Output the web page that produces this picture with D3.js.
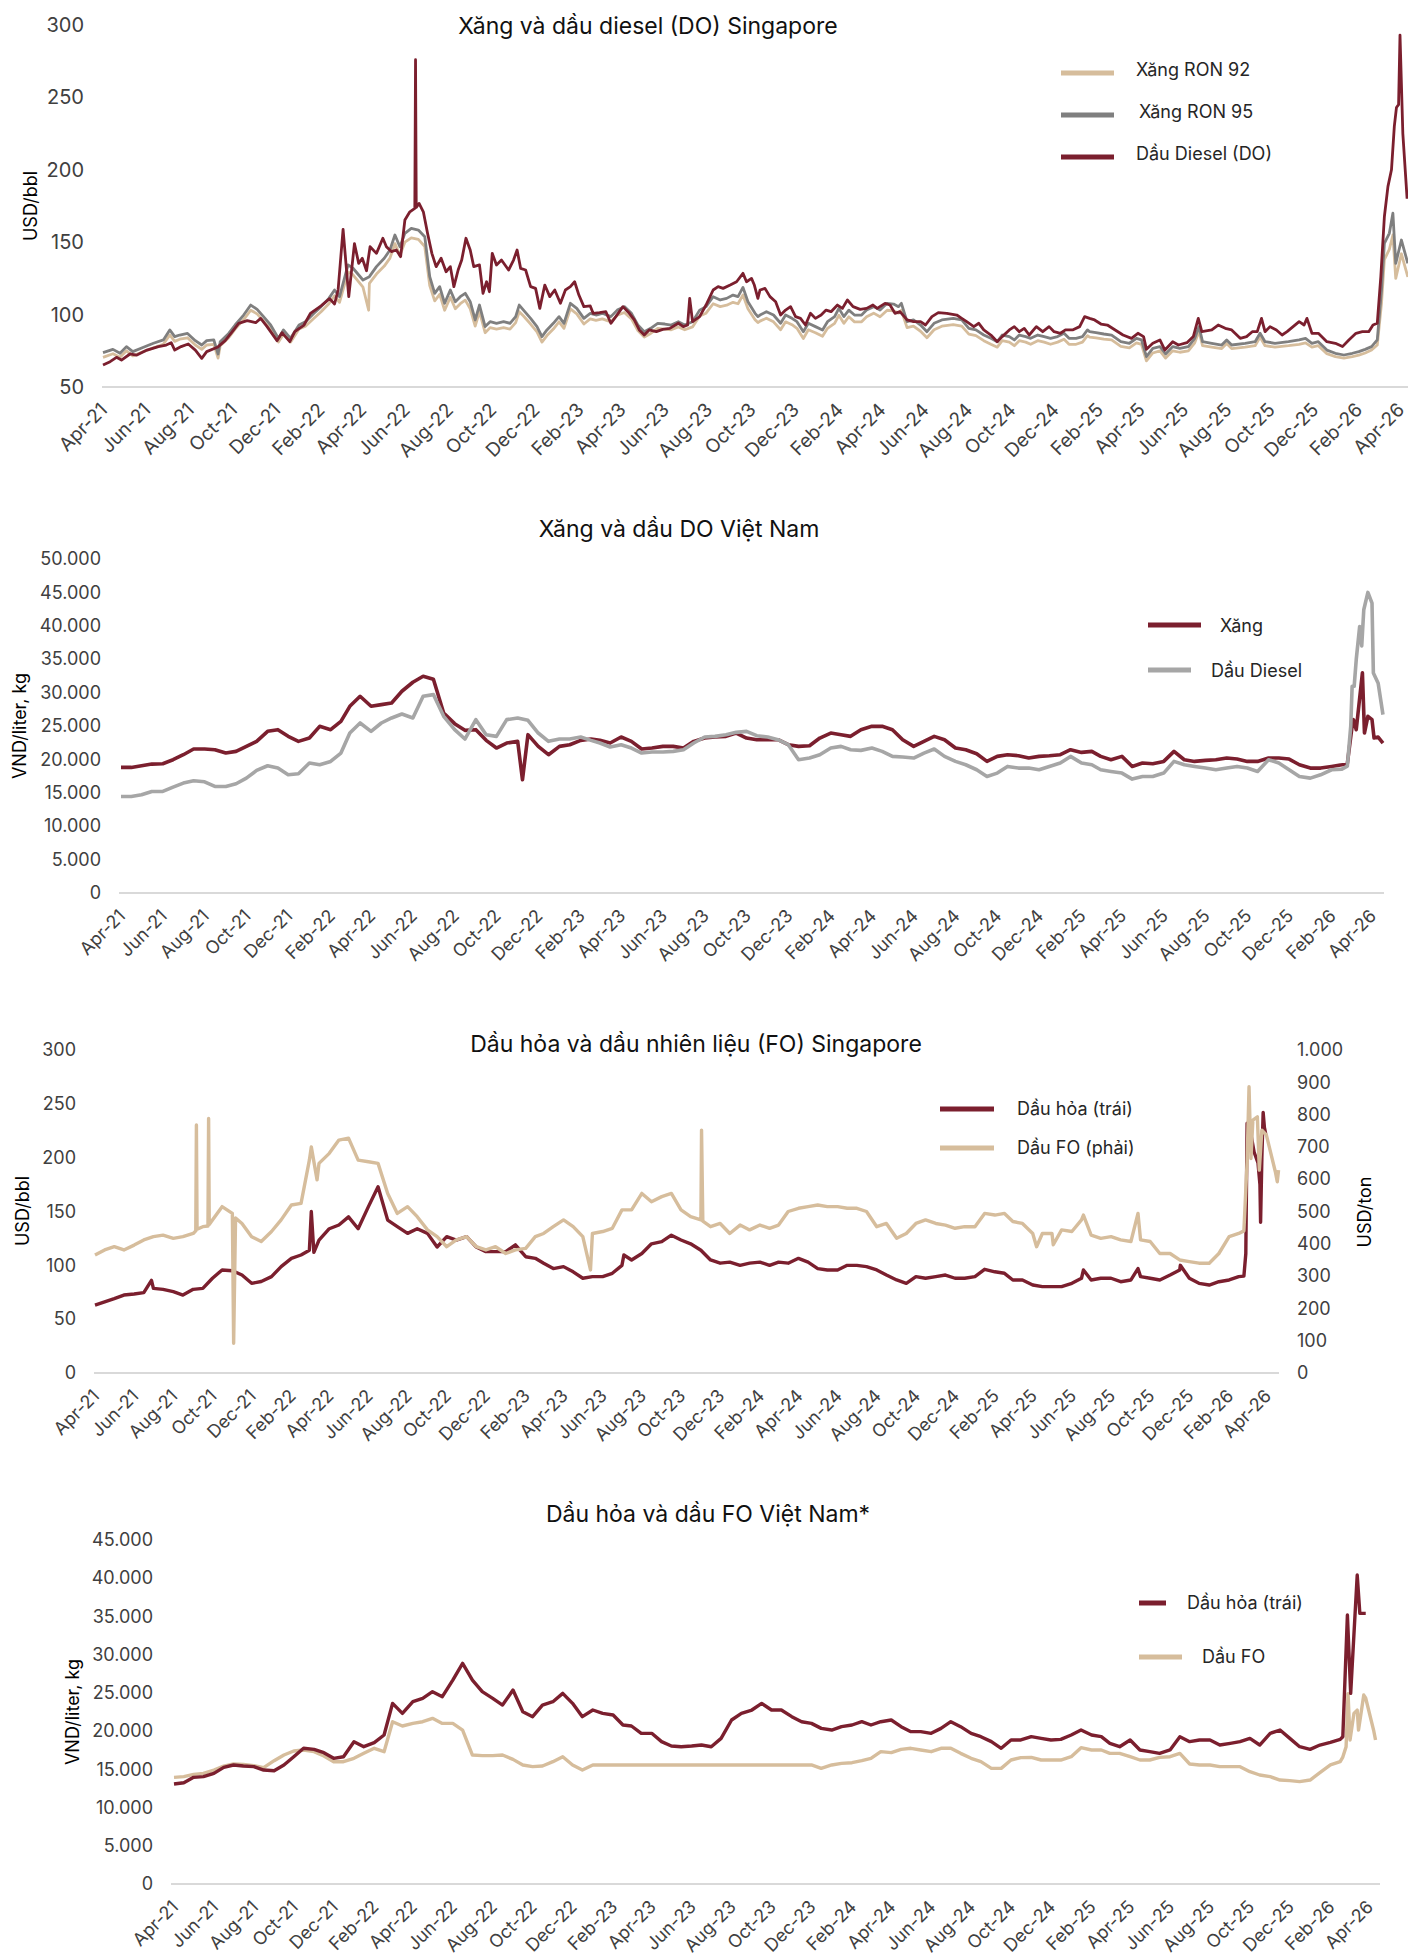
<!DOCTYPE html>
<html>
<head>
<meta charset="utf-8">
<script src="https://cdn.jsdelivr.net/npm/d3@7"></script>
<style>
  body { margin: 0; background: #fff; }
  svg { display: block; font-family: Inter, "Noto Sans", sans-serif; }
  .tick text { fill: #404040; }
</style>
</head>
<body>
<svg id="chart" width="1408" height="1953"></svg>
<script>
// ---- Panel 1: Singapore gasoline & diesel, USD/bbl (dated readings of turning points) ----
const sgDiesel = [["2021-04-01",65.2],["2021-04-11",67.5],["2021-04-20",70.5],["2021-04-27",68.6],["2021-05-09",72.8],
  ["2021-05-18",72],["2021-06-02",75.5],["2021-06-18",77.9],["2021-06-29",79],["2021-07-06",80.6],["2021-07-11",75.5],
  ["2021-07-20",77.9],["2021-07-30",79.7],["2021-08-09",75.5],["2021-08-18",69.8],["2021-08-25",74.4],["2021-09-09",77.4],
  ["2021-09-20",82],["2021-09-29",87.5],["2021-10-09",94],["2021-10-21",95.8],["2021-11-02",94.4],["2021-11-09",97.4],
  ["2021-11-18",91.7],["2021-12-02",82],["2021-12-09",87.5],["2021-12-20",81.3],["2021-12-27",88.2],["2022-01-09",92.8],
  ["2022-01-18",100.9],["2022-02-02",106],["2022-02-14",111],["2022-02-21",107.3],["2022-02-26",117],["2022-03-05",158.9],
  ["2022-03-13",112.4],["2022-03-21",149],["2022-03-27",135.4],["2022-04-01",138.9],["2022-04-07",130.3],["2022-04-12",146.9],
  ["2022-04-21",142.3],["2022-04-30",152.7],["2022-05-05",146.9],["2022-05-12",143.5],["2022-05-19",144.6],["2022-05-25",140],
  ["2022-05-31",165.3],["2022-06-07",171],["2022-06-14",173.4],["2022-06-15",276],["2022-06-16",174],["2022-06-20",176.8],
  ["2022-06-26",171],["2022-07-02",156],["2022-07-08",142.3],["2022-07-14",133.1],["2022-07-21",138.9],["2022-07-28",129.6],
  ["2022-08-03",133.1],["2022-08-08",119.3],["2022-08-14",130.8],["2022-08-19",137.7],["2022-08-25",152.7],["2022-08-31",144.6],
  ["2022-09-05",133.1],["2022-09-13",134.3],["2022-09-18",114.7],["2022-09-23",122.7],["2022-09-27",115.8],["2022-10-01",142.3],
  ["2022-10-07",134.3],["2022-10-14",137.7],["2022-10-24",130.8],["2022-10-31",137.7],["2022-11-05",144.6],["2022-11-10",131.9],
  ["2022-11-17",130.8],["2022-11-24",119.3],["2022-12-01",118.1],["2022-12-07",104.3],["2022-12-14",120.4],["2022-12-21",112.4],
  ["2022-12-28",117],["2023-01-05",107.8],["2023-01-12",117],["2023-01-19",119.3],["2023-01-25",122.7],["2023-01-31",113.5],
  ["2023-02-07",105.5],["2023-02-16",106],["2023-02-20",100.9],["2023-03-01",101.4],["2023-03-10",102],["2023-03-17",94],
  ["2023-03-24",98.6],["2023-04-03",105.5],["2023-04-12",100.9],["2023-04-19",96.3],["2023-04-26",89.4],["2023-05-03",85.9],
  ["2023-05-10",89.4],["2023-05-20",88.2],["2023-05-29",89.8],["2023-06-08",90.5],["2023-06-20",94],["2023-06-27",91.7],
  ["2023-07-03",92.8],["2023-07-06",111.2],["2023-07-10",95.1],["2023-07-20",98.6],["2023-07-29",106.6],["2023-08-08",117],
  ["2023-08-15",119.3],["2023-08-22",118.1],["2023-09-01",120.4],["2023-09-10",122.7],["2023-09-19",128.5],["2023-09-24",122.7],
  ["2023-10-01",125],["2023-10-05",120.4],["2023-10-10",111.2],["2023-10-13",117],["2023-10-20",118.1],["2023-10-27",112.4],
  ["2023-11-04",108.9],["2023-11-11",99.7],["2023-11-18",103.1],["2023-11-25",105.5],["2023-12-02",98.6],["2023-12-09",97.4],
  ["2023-12-16",92.8],["2023-12-23",100.9],["2023-12-30",97.4],["2024-01-07",99.7],["2024-01-14",103.1],["2024-01-21",102],
  ["2024-01-30",106.6],["2024-02-06",104.3],["2024-02-13",110.1],["2024-02-21",105.5],["2024-03-02",103.6],["2024-03-11",104.3],
  ["2024-03-20",106.6],["2024-03-26",104.3],["2024-04-06",107.8],["2024-04-13",106.6],["2024-04-20",100.9],["2024-04-27",102],
  ["2024-05-07",96.3],["2024-05-16",95.1],["2024-05-26",95.1],["2024-06-02",92.8],["2024-06-11",98.6],["2024-06-20",101.4],
  ["2024-07-02",100.9],["2024-07-16",99.7],["2024-07-23",97.4],["2024-07-30",95.1],["2024-08-09",91.7],["2024-08-16",94],
  ["2024-08-23",89.4],["2024-09-02",85.9],["2024-09-11",81.3],["2024-09-18",84.8],["2024-09-28",89.4],["2024-10-05",91.7],
  ["2024-10-12",88.2],["2024-10-19",90.5],["2024-10-26",85.9],["2024-11-05",91.7],["2024-11-14",88.2],["2024-11-23",91.7],
  ["2024-11-30",88.2],["2024-12-09",87.1],["2024-12-16",89.4],["2024-12-26",89.4],["2025-01-05",91.7],["2025-01-12",98.6],
  ["2025-01-19",97.4],["2025-01-26",96.3],["2025-02-04",93.5],["2025-02-13",92.8],["2025-02-24",89.4],["2025-03-07",85.9],
  ["2025-03-19",83.6],["2025-03-28",87.1],["2025-04-05",84.8],["2025-04-09",76],["2025-04-18",80.2],["2025-04-28",82.5],
  ["2025-05-05",75.5],["2025-05-16",81.3],["2025-05-24",79],["2025-06-05",80.6],["2025-06-14",84.8],["2025-06-21",97.4],
  ["2025-06-26",88.2],["2025-07-10",89.4],["2025-07-19",92.8],["2025-07-29",90.5],["2025-08-07",89.4],["2025-08-19",83.6],
  ["2025-08-28",84.8],["2025-09-05",88.2],["2025-09-12",88.2],["2025-09-18",97.4],["2025-09-23",88.2],["2025-09-30",91.7],
  ["2025-10-09",89.4],["2025-10-17",85.9],["2025-10-24",88.2],["2025-11-10",95.1],["2025-11-17",92.8],["2025-11-21",97.4],
  ["2025-11-28",87.1],["2025-12-07",87.1],["2025-12-19",81.3],["2025-12-31",80.2],["2026-01-10",77.9],["2026-01-19",82.5],
  ["2026-01-29",87.1],["2026-02-07",88.2],["2026-02-16",88.2],["2026-02-22",92.8],["2026-02-28",94],["2026-03-05",126.2],
  ["2026-03-10",167.6],["2026-03-15",188.4],["2026-03-20",200],["2026-03-24",230],["2026-03-27",243],["2026-03-30",245],
  ["2026-04-01",293],["2026-04-05",225],["2026-04-11",180]];

const sgRon95 = [["2021-04-01",73.7],["2021-04-15",76],["2021-04-25",73.3],["2021-05-04",77.9],["2021-05-13",74.4],
  ["2021-05-28",77.4],["2021-06-11",80.2],["2021-06-25",82.5],["2021-07-04",89.4],["2021-07-11",84.8],["2021-07-18",85.9],
  ["2021-07-29",87],["2021-08-09",82],["2021-08-18",79],["2021-08-25",82],["2021-09-04",82.5],["2021-09-10",72.8],
  ["2021-09-13",81.3],["2021-09-25",87],["2021-10-04",92.8],["2021-10-16",99.7],["2021-10-26",106.6],["2021-11-04",103.6],
  ["2021-11-13",98.6],["2021-11-23",92.8],["2021-12-04",83.6],["2021-12-11",89.4],["2021-12-21",83.6],["2022-01-02",92.8],
  ["2022-01-11",95.1],["2022-01-23",100.9],["2022-02-02",105.5],["2022-02-13",111.2],["2022-02-21",117],["2022-02-28",112.4],
  ["2022-03-12",134.3],["2022-03-19",132],["2022-04-02",123.9],["2022-04-11",126.2],["2022-04-21",133.1],["2022-05-02",138.9],
  ["2022-05-10",144.6],["2022-05-17",155],["2022-05-24",146.9],["2022-05-31",156.1],["2022-06-09",159.6],["2022-06-19",158.4],
  ["2022-06-28",153.8],["2022-07-05",126.2],["2022-07-12",114.7],["2022-07-19",119.3],["2022-07-26",107.8],["2022-08-03",117],
  ["2022-08-10",108.9],["2022-08-17",112.4],["2022-08-24",114.7],["2022-08-31",108.9],["2022-09-07",96.3],["2022-09-13",106.6],
  ["2022-09-21",91.7],["2022-09-28",95.1],["2022-10-07",94],["2022-10-17",95.1],["2022-10-26",94],["2022-11-03",98.6],
  ["2022-11-08",106.6],["2022-11-14",103.1],["2022-11-24",97.4],["2022-12-03",91.7],["2022-12-10",84.8],["2022-12-17",89.4],
  ["2022-12-26",94],["2023-01-03",98.6],["2023-01-10",94],["2023-01-19",107.8],["2023-01-28",104.3],["2023-02-07",97.4],
  ["2023-02-16",100.9],["2023-02-24",99.7],["2023-03-05",100.9],["2023-03-17",98.6],["2023-03-26",103.1],["2023-04-05",105.5],
  ["2023-04-15",100.9],["2023-04-24",92.8],["2023-05-03",88.2],["2023-05-12",90.5],["2023-05-22",94],["2023-06-01",93.5],
  ["2023-06-10",92.8],["2023-06-20",95.1],["2023-06-29",92.8],["2023-07-10",95.1],["2023-07-20",103.1],["2023-07-29",105.5],
  ["2023-08-08",112.4],["2023-08-18",110.1],["2023-08-27",111.2],["2023-09-05",113.5],["2023-09-12",112.4],["2023-09-19",118.8],
  ["2023-09-26",108.9],["2023-10-06",100.9],["2023-10-10",98.6],["2023-10-13",99.7],["2023-10-22",102],["2023-11-01",99.7],
  ["2023-11-11",94],["2023-11-18",99.7],["2023-11-27",97.4],["2023-12-04",95.1],["2023-12-13",88.2],["2023-12-20",94],
  ["2023-12-30",91.7],["2024-01-09",89.4],["2024-01-16",95.1],["2024-01-26",98.6],["2024-02-01",104.3],["2024-02-08",98.6],
  ["2024-02-15",103.1],["2024-02-23",99.7],["2024-03-04",99.7],["2024-03-11",103.1],["2024-03-21",105.5],["2024-03-30",103.1],
  ["2024-04-09",107.8],["2024-04-18",107.3],["2024-04-25",105.5],["2024-04-29",107.8],["2024-05-07",95.1],["2024-05-16",96.3],
  ["2024-05-26",92.8],["2024-06-04",88.2],["2024-06-14",94],["2024-06-25",96.3],["2024-07-11",97.4],["2024-07-23",96.3],
  ["2024-08-02",90.5],["2024-08-12",89.4],["2024-08-23",85.9],["2024-09-02",83.6],["2024-09-11",81.3],["2024-09-18",85.9],
  ["2024-09-28",84.8],["2024-10-05",82.5],["2024-10-12",85.9],["2024-10-21",84.8],["2024-10-28",83.6],["2024-11-07",85.9],
  ["2024-11-16",84.8],["2024-11-25",83.6],["2024-12-05",84.8],["2024-12-14",87.1],["2024-12-21",83.6],["2024-12-31",83.6],
  ["2025-01-09",84.8],["2025-01-16",89.4],["2025-01-19",88.2],["2025-01-28",87.5],["2025-02-08",86.6],["2025-02-19",85.9],
  ["2025-03-04",81.3],["2025-03-16",80.2],["2025-03-26",83.6],["2025-04-02",82.5],["2025-04-09",71],["2025-04-18",76.7],
  ["2025-04-28",77.9],["2025-05-06",72.8],["2025-05-16",77.9],["2025-05-26",76.7],["2025-06-07",77.9],["2025-06-16",83.6],
  ["2025-06-22",91.7],["2025-06-27",81.3],["2025-07-10",80.2],["2025-07-24",79],["2025-07-31",82.5],["2025-08-07",79],
  ["2025-08-26",80.2],["2025-09-09",81.3],["2025-09-16",87.1],["2025-09-23",81.3],["2025-10-07",80.2],["2025-10-26",81.3],
  ["2025-11-10",82.5],["2025-11-19",83.6],["2025-11-28",80.2],["2025-12-07",81.3],["2025-12-19",75.5],["2025-12-31",73.3],
  ["2026-01-12",72.1],["2026-01-24",73.3],["2026-02-02",74.4],["2026-02-11",76],["2026-02-20",77.9],["2026-02-28",82.5],
  ["2026-03-06",117],["2026-03-10",149.2],["2026-03-17",156.1],["2026-03-22",170],["2026-03-26",135.4],["2026-04-03",151.5],
  ["2026-04-12",135.4]];

const sgRon92 = [["2021-04-01",70.5],["2021-04-15",73],["2021-04-25",70.5],["2021-05-04",75],["2021-05-13",71.5],
  ["2021-05-28",74.5],["2021-06-11",77],["2021-06-25",79.5],["2021-07-04",86],["2021-07-11",81.5],["2021-07-18",83],
  ["2021-07-29",84],["2021-08-09",79],["2021-08-18",76],["2021-08-25",79],["2021-09-04",79.5],["2021-09-10",70],
  ["2021-09-13",78.5],["2021-09-25",84],["2021-10-04",90],["2021-10-16",96.5],["2021-10-26",103],["2021-11-04",100.5],
  ["2021-11-13",95.5],["2021-11-23",90],["2021-12-04",81],["2021-12-11",86.5],["2021-12-21",81],["2022-01-02",90],
  ["2022-01-11",92],["2022-01-23",97.5],["2022-02-02",102],["2022-02-13",107.5],["2022-02-21",113],["2022-02-28",108.5],
  ["2022-03-12",129.5],["2022-03-19",127.5],["2022-04-02",119],["2022-04-10",103],["2022-04-11",121.5],["2022-04-21",128],
  ["2022-05-02",133.5],["2022-05-10",139],["2022-05-17",149],["2022-05-24",141],["2022-05-31",150],["2022-06-09",153],
  ["2022-06-19",152],["2022-06-28",147],["2022-07-05",120],["2022-07-12",109.5],["2022-07-19",114],["2022-07-26",103],
  ["2022-08-03",112],["2022-08-10",104],["2022-08-17",107.5],["2022-08-24",110],["2022-08-31",104],["2022-09-07",92],
  ["2022-09-13",102],["2022-09-21",87.5],["2022-09-28",91],["2022-10-07",90],["2022-10-17",91],["2022-10-26",90],
  ["2022-11-03",94.5],["2022-11-08",102],["2022-11-14",99],["2022-11-24",93.5],["2022-12-03",88],["2022-12-10",81],
  ["2022-12-17",85.5],["2022-12-26",90],["2023-01-03",95],["2023-01-10",90.5],["2023-01-19",104],["2023-01-28",100.5],
  ["2023-02-07",93.5],["2023-02-16",97],["2023-02-24",96],["2023-03-05",97],["2023-03-17",95],["2023-03-26",99.5],
  ["2023-04-05",101.5],["2023-04-15",97],["2023-04-24",89],["2023-05-03",84.5],["2023-05-12",87],["2023-05-22",90.5],
  ["2023-06-01",90],["2023-06-10",89.5],["2023-06-20",91.5],["2023-06-29",89.5],["2023-07-10",91.5],["2023-07-20",99],
  ["2023-07-29",101],["2023-08-08",107.5],["2023-08-18",105.5],["2023-08-27",106.5],["2023-09-05",108.5],["2023-09-12",107.5],
  ["2023-09-19",113.5],["2023-09-26",104],["2023-10-06",96.5],["2023-10-10",94.5],["2023-10-13",95.5],["2023-10-22",97.5],
  ["2023-11-01",95],["2023-11-11",89.5],["2023-11-18",95],["2023-11-27",93],["2023-12-04",90.5],["2023-12-13",83.5],
  ["2023-12-20",89.5],["2023-12-30",87.5],["2024-01-09",85],["2024-01-16",90.5],["2024-01-26",94],["2024-02-01",99.5],
  ["2024-02-08",94],["2024-02-15",98.5],["2024-02-23",95],["2024-03-04",95],["2024-03-11",98.5],["2024-03-21",101],
  ["2024-03-30",98.5],["2024-04-09",103],["2024-04-18",102.5],["2024-04-25",101],["2024-04-29",103],["2024-05-07",91],
  ["2024-05-16",92],["2024-05-26",88.5],["2024-06-04",84],["2024-06-14",89.5],["2024-06-25",92],["2024-07-11",93],
  ["2024-07-23",92],["2024-08-02",86.5],["2024-08-12",85.5],["2024-08-23",82],["2024-09-02",79.5],["2024-09-11",77.5],
  ["2024-09-18",82],["2024-09-28",81],["2024-10-05",78.5],["2024-10-12",82],["2024-10-21",81],["2024-10-28",79.5],
  ["2024-11-07",82],["2024-11-16",81],["2024-11-25",79.5],["2024-12-05",81],["2024-12-14",83],["2024-12-21",79.5],
  ["2024-12-31",79.5],["2025-01-09",81],["2025-01-16",85.5],["2025-01-19",84.5],["2025-01-28",84],["2025-02-08",83],
  ["2025-02-19",82.5],["2025-03-04",78],["2025-03-16",77],["2025-03-26",80.5],["2025-04-02",79.5],["2025-04-09",68],
  ["2025-04-18",73.5],["2025-04-28",75],["2025-05-06",70],["2025-05-16",75],["2025-05-26",74],["2025-06-07",75],
  ["2025-06-16",80.5],["2025-06-22",88.5],["2025-06-27",78.5],["2025-07-10",77.5],["2025-07-24",76.5],["2025-07-31",80],
  ["2025-08-07",76.5],["2025-08-26",77.5],["2025-09-09",78.5],["2025-09-16",84.5],["2025-09-23",78.5],["2025-10-07",77.5],
  ["2025-10-26",78.5],["2025-11-10",79.5],["2025-11-19",80.5],["2025-11-28",77.5],["2025-12-07",78.5],["2025-12-19",73],
  ["2025-12-31",71],["2026-01-12",70],["2026-01-24",71],["2026-02-02",72],["2026-02-11",73.5],["2026-02-20",75.5],
  ["2026-02-28",79],["2026-03-06",108],["2026-03-10",138],["2026-03-17",145],["2026-03-22",155],["2026-03-26",125],
  ["2026-04-03",142],["2026-04-12",126]];

// ---- Panels 2-4: semi-monthly readings (1st and 16th, Apr-21 .. Feb-26) plus dated extras ----
const vnGasoline = [18800, 18800, 19050, 19300, 19350, 19950, 20700, 21550, 21550, 21450,
  20950, 21200, 21950, 22700, 24200, 24450, 23450, 22700, 23200, 24950,
  24450, 25700, 27950, 29450, 27950, 28200, 28450, 30200, 31550, 32450,
  32000, 26950, 25350, 24350, 24450, 22850, 21700, 22450, 22700, 23700,
  21950, 20700, 21950, 22200, 22850, 23050, 22850, 22450, 23350, 22700,
  21550, 21700, 21950, 21950, 21700, 22700, 23200, 23350, 23450, 23950,
  23200, 22950, 22950, 22950, 22200, 21950, 22050, 23200, 23950, 23700,
  23450, 24450, 24950, 24950, 24450, 22950, 21950, 22700, 23450, 22950,
  21700, 21450, 20850, 19700, 20450, 20700, 20550, 20200, 20450, 20550,
  20700, 21450, 21050, 21200, 20450, 19950, 20450, 18950, 19450, 19350,
  19700, 21200, 19950, 19700, 19850, 19950, 20200, 20050, 19700, 19700,
  20200, 20200, 20050, 19200, 18700, 18700, 18950, 19200];
const vnGasolineExtra = [["2022-11-08", 16950], ["2026-02-24", 19400], ["2026-03-03", 25000], ["2026-03-05", 25950],
  ["2026-03-09", 24450], ["2026-03-18", 32950], ["2026-03-21", 23950], ["2026-03-26", 26450],
  ["2026-04-01", 25950], ["2026-04-04", 23200], ["2026-04-10", 23350], ["2026-04-17", 22450]];

const vnDiesel = [14450, 14450, 14700, 15200, 15200, 15850, 16450, 16800, 16650, 15950,
  15950, 16350, 17200, 18350, 19050, 18700, 17700, 17850, 19450, 19200,
  19700, 20950, 23950, 25450, 24200, 25450, 26200, 26800, 26200, 29450,
  29700, 26450, 24450, 23050, 25950, 23700, 23450, 25950, 26200, 25850,
  23950, 22700, 23050, 23050, 23350, 22850, 22450, 21850, 22200, 21700,
  20950, 21100, 21100, 21200, 21450, 22450, 23350, 23450, 23700, 24050,
  24200, 23550, 23350, 22950, 22200, 19950, 20200, 20700, 21700, 21950,
  21450, 21350, 21700, 21200, 20450, 20350, 20200, 20950, 21550, 20450,
  19700, 19200, 18450, 17450, 17950, 18950, 18700, 18700, 18450, 18950,
  19450, 20450, 19450, 19200, 18450, 18200, 17950, 17050, 17450, 17450,
  17950, 19700, 19200, 18950, 18700, 18450, 18700, 18950, 18700, 18200,
  19950, 19450, 18450, 17450, 17200, 17700, 18450, 18550];
const vnDieselExtra = [["2026-02-24", 19000], ["2026-03-01", 25000], ["2026-03-03", 30950], ["2026-03-06", 30950],
  ["2026-03-09", 34950], ["2026-03-14", 39900], ["2026-03-17", 37000], ["2026-03-20", 42400],
  ["2026-03-26", 45000], ["2026-04-01", 43400], ["2026-04-03", 32950], ["2026-04-10", 31400],
  ["2026-04-17", 26700]];

const sgKerosene = [63, 66, 69, 72.4, 73.4, 74.6, 78.6, 77.7, 75.5, 72.4,
  77.7, 78.6, 88, 95.7, 95, 91, 83.3, 85, 89.5, 98.8,
  106.5, 109.6, 114, 123.5, 134, 137.5, 145, 134, 154.5, 173,
  142, 136, 129.7, 134, 129.7, 117, 126.6, 123.5, 126.6, 117,
  112.7, 112.7, 112.7, 119, 108, 106.5, 101.9, 97, 98.8, 94,
  88, 89.5, 89.5, 92.6, 100, 105, 111, 120, 122, 128,
  123.5, 120, 114, 105, 102, 103, 100, 102, 103, 100,
  103, 102, 106.5, 103, 97, 95.7, 95.7, 100, 100, 98.8,
  95.7, 91, 86.4, 83.3, 89.5, 88, 89.5, 91, 88, 88,
  89.5, 96.3, 94, 92.6, 86.4, 86.4, 81.7, 80.2, 80.2, 80.2,
  83.3, 88, 86.4, 88, 88, 84.8, 86.4, 89.5, 88, 86.4,
  91, 95.7, 88, 83.3, 81.7, 84.8, 86.4, 89.5];
const sgKeroseneExtra = [["2021-06-28", 86], ["2022-03-04", 150], ["2022-03-08", 112], ["2023-07-04", 109.6],
  ["2025-06-19", 95.7], ["2025-09-12", 97], ["2025-11-17", 100], ["2026-02-24", 90], ["2026-02-27", 111],
  ["2026-03-01", 232], ["2026-03-06", 225], ["2026-03-12", 205], ["2026-03-18", 195], ["2026-03-21", 175],
  ["2026-03-22", 140], ["2026-03-24", 200], ["2026-03-26", 242], ["2026-03-28", 228], ["2026-03-30", 222]];

const sgFuelOil = [365, 381, 391, 381, 396, 412, 422, 427, 417, 422,
  432, 453, 474, 515, 494, 463, 422, 407, 438, 474,
  520, 525, 659, 649, 680, 721, 727, 659, 654, 649,
  556, 494, 515, 484, 443, 422, 391, 412, 422, 391,
  381, 391, 370, 381, 386, 422, 432, 453, 474, 453,
  422, 432, 438, 448, 505, 505, 556, 530, 546, 556,
  505, 484, 474, 453, 463, 432, 458, 443, 458, 448,
  458, 500, 510, 515, 520, 515, 515, 510, 510, 500,
  453, 463, 417, 432, 463, 474, 463, 458, 448, 453,
  453, 494, 489, 494, 469, 463, 432, 432, 432, 443,
  438, 474, 427, 417, 422, 412, 407, 412, 407, 370,
  370, 350, 345, 340, 340, 370, 422, 432];
const sgFuelOilExtra = [["2021-09-05", 440], ["2021-09-06", 768], ["2021-09-07", 445], ["2021-09-24", 455],
  ["2021-09-25", 788], ["2021-09-26", 460], ["2021-11-03", 92], ["2021-11-06", 480], ["2022-03-04", 700],
  ["2022-03-13", 598], ["2023-05-13", 319], ["2023-11-02", 752], ["2023-11-04", 470], ["2025-04-07", 391],
  ["2025-05-03", 397], ["2025-06-19", 489], ["2025-09-12", 494], ["2026-02-24", 440], ["2026-03-01", 654],
  ["2026-03-04", 886], ["2026-03-07", 664], ["2026-03-10", 783], ["2026-03-17", 793], ["2026-03-20", 628],
  ["2026-03-24", 752], ["2026-03-31", 737], ["2026-04-07", 680], ["2026-04-14", 623], ["2026-04-17", 592],
  ["2026-04-19", 628]];

const vnKerosene = [13080, 13250, 13950, 14040, 14470, 15260, 15570, 15430, 15350, 14910,
  14820, 15570, 16650, 17750, 17610, 17180, 16440, 16650, 18620, 17960,
  18490, 19490, 23630, 22320, 23850, 24290, 25160, 24500, 26680, 28860,
  26680, 25160, 24290, 23410, 25370, 22540, 21890, 23410, 23850, 24940,
  23630, 21890, 22760, 22320, 22110, 20800, 20670, 19710, 19710, 18620,
  18050, 17960, 18050, 18180, 17960, 19050, 21450, 22320, 22760, 23630,
  22760, 22760, 21890, 21230, 21010, 20360, 20140, 20580, 20800, 21230,
  20800, 21230, 21450, 20580, 19930, 19930, 19710, 20360, 21230, 20580,
  19710, 19270, 18620, 17750, 18840, 18840, 19270, 19050, 18840, 18920,
  19490, 20140, 19490, 19270, 18400, 17960, 18840, 17530, 17310, 17090,
  17530, 19270, 18620, 18840, 18840, 18180, 18400, 18620, 19050, 18180,
  19710, 20140, 19050, 17960, 17610, 18180, 18530, 18920];
const vnKeroseneExtra = [["2026-02-20", 19270], ["2026-02-27", 35190], ["2026-03-04", 24940],
  ["2026-03-14", 40420], ["2026-03-18", 35400], ["2026-03-27", 35400]];

const vnFuelOil = [13950, 14040, 14340, 14470, 14910, 15430, 15700, 15650, 15480, 15220,
  16130, 16870, 17400, 17530, 17310, 16740, 16000, 16000, 16440, 17090,
  17750, 17310, 21230, 20670, 21010, 21230, 21670, 21010, 21010, 20140,
  16870, 16790, 16790, 16870, 16300, 15570, 15350, 15430, 16000, 16650,
  15570, 14910, 15570, 15570, 15570, 15570, 15570, 15570, 15570, 15570,
  15570, 15570, 15570, 15570, 15570, 15570, 15570, 15570, 15570, 15570,
  15570, 15570, 15570, 15570, 15570, 15130, 15570, 15780, 15870, 16130,
  16440, 17310, 17180, 17610, 17750, 17530, 17310, 17750, 17750, 17090,
  16440, 16000, 15130, 15130, 16220, 16530, 16570, 16220, 16220, 16220,
  16650, 17830, 17530, 17530, 17090, 17090, 16650, 16220, 16220, 16570,
  16650, 17090, 15700, 15570, 15570, 15350, 15350, 15350, 14690, 14260,
  14040, 13600, 13520, 13390, 13600, 14560, 15570, 16000];
const vnFuelOilExtra = [["2026-02-20", 16600], ["2026-02-25", 17960], ["2026-02-28", 24900], ["2026-03-03", 18840],
  ["2026-03-09", 22320], ["2026-03-14", 22750], ["2026-03-16", 20140], ["2026-03-24", 24720],
  ["2026-03-27", 24300], ["2026-04-08", 20140], ["2026-04-11", 18840]];

// tick values
const ticksUsdBbl = [50, 100, 150, 200, 250, 300];
const ticksVnd50 = d3.range(0, 50001, 5000);
const ticksUsdBbl0 = [0, 50, 100, 150, 200, 250, 300];
const ticksUsdTon = d3.range(0, 1001, 100);
const ticksVnd45 = d3.range(0, 45001, 5000);

const MAROON = '#7b1f2e', TAN = '#d6bd9c', GREY = '#7f7f7f', LIGHTGREY = '#a6a6a6';

// ---- helpers ----
const svg = d3.select('#chart');
const parse = d3.timeParse('%Y-%m-%d');
const gridDate = i => new Date(2021, 3 + Math.floor(i / 2), i % 2 ? 16 : 1);
const fromPairs = list => list.map(d => ({ date: parse(d[0]), value: d[1] }));
const toSeries = (vals, extra) => vals.map((v, i) => ({ date: gridDate(i), value: v }))
    .concat(fromPairs(extra))
    .sort((a, b) => a.date - b.date);

const viNum = d3.formatLocale({ decimal: ',', thousands: '.', grouping: [3], currency: ['', ''] }).format(',');
const monthLabel = d3.timeFormat('%b-%y');
const xTicks = d3.timeMonth.range(new Date(2021, 3, 1), new Date(2026, 4, 1), 2);

function drawPanel(p) {
    const g = svg.append('g');
    const x = d3.scaleTime()
        .domain([new Date(2021, 3, 1), new Date(2026, 3, 1)])
        .range([p.x0, p.x1]);
    const y = d3.scaleLinear().domain(p.yDomain).range([p.base, p.top]);
    const yR = p.yRight ? d3.scaleLinear().domain(p.yRight.domain).range([p.base, p.top]) : null;

    g.append('text')
        .attr('x', p.titleX).attr('y', p.titleY)
        .attr('text-anchor', 'middle')
        .attr('font-size', 23)
        .attr('fill', '#111')
        .text(p.title);

    g.append('line')
        .attr('x1', p.left).attr('x2', p.right)
        .attr('y1', p.base).attr('y2', p.base)
        .attr('stroke', '#d9d9d9').attr('stroke-width', 2);

    const yAxis = d3.axisLeft(y).tickValues(p.yTicks).tickFormat(p.fmt).tickSize(0).tickPadding(18);
    g.append('g')
        .attr('transform', `translate(${p.left},0)`)
        .call(yAxis)
        .attr('font-family', null)
        .attr('font-size', p.yFont)
        .call(a => a.select('.domain').remove());

    if (yR) {
        const yAxisR = d3.axisRight(yR).tickValues(p.yRight.ticks).tickFormat(viNum).tickSize(0).tickPadding(18);
        g.append('g')
            .attr('transform', `translate(${p.right},0)`)
            .call(yAxisR)
            .attr('font-family', null)
            .attr('font-size', p.yFont)
            .call(a => a.select('.domain').remove());
    }

    const xAxis = d3.axisBottom(x).tickValues(xTicks).tickFormat(monthLabel).tickSize(0);
    g.append('g')
        .attr('transform', `translate(0,${p.base})`)
        .call(xAxis)
        .attr('font-family', null)
        .attr('font-size', p.xFont)
        .call(a => a.select('.domain').remove())
        .selectAll('text')
        .attr('y', 0).attr('dy', 0)
        .attr('text-anchor', 'end')
        .attr('transform', 'translate(5,24) rotate(-45)');

    // axis titles
    p.axisTitles.forEach(t => {
        g.append('text')
            .attr('transform', `translate(${t.x},${t.y}) rotate(-90)`)
            .attr('text-anchor', 'middle')
            .attr('dy', '0.35em')
            .attr('font-size', 18)
            .attr('fill', '#000')
            .text(t.text);
    });

    // lines
    p.series.forEach(s => {
        const ys = s.right ? yR : y;
        g.append('path')
            .datum(s.data)
            .attr('fill', 'none')
            .attr('stroke', s.color)
            .attr('stroke-width', p.lineWidth)
            .attr('stroke-linejoin', 'round')
            .attr('d', d3.line().x(d => x(d.date)).y(d => ys(d.value)));
    });

    // legend
    p.legend.forEach(l => {
        g.append('line')
            .attr('x1', l.x1).attr('x2', l.x2)
            .attr('y1', l.y).attr('y2', l.y)
            .attr('stroke', l.color).attr('stroke-width', 5);
        g.append('text')
            .attr('x', l.tx).attr('y', l.y + p.legendDy)
            .attr('font-size', 18)
            .attr('fill', '#262626')
            .text(l.label);
    });
}

drawPanel({
    title: 'Xăng và dầu diesel (DO) Singapore', titleX: 648, titleY: 34,
    x0: 103, x1: 1400, left: 102, right: 1408, base: 387, top: 25,
    yDomain: [50, 300], yTicks: ticksUsdBbl, fmt: d => d, yFont: 20, xFont: 19,
    axisTitles: [{ text: 'USD/bbl', x: 31, y: 206 }],
    lineWidth: 2.8, legendDy: 3,
    series: [
        { data: fromPairs(sgRon92), color: TAN },
        { data: fromPairs(sgRon95), color: GREY },
        { data: fromPairs(sgDiesel), color: MAROON }
    ],
    legend: [
        { label: 'Xăng RON 92', color: TAN, x1: 1061, x2: 1114, y: 73, tx: 1136 },
        { label: 'Xăng RON 95', color: GREY, x1: 1061, x2: 1114, y: 115, tx: 1139 },
        { label: 'Dầu Diesel (DO)', color: MAROON, x1: 1061, x2: 1114, y: 157, tx: 1136 }
    ]
});

drawPanel({
    title: 'Xăng và dầu DO Việt Nam', titleX: 679, titleY: 537,
    x0: 121, x1: 1372, left: 119, right: 1384, base: 893, top: 559,
    yDomain: [0, 50000], yTicks: ticksVnd50, fmt: viNum, yFont: 18, xFont: 18,
    axisTitles: [{ text: 'VND/liter, kg', x: 20, y: 726 }],
    lineWidth: 3.6, legendDy: 7,
    series: [
        { data: toSeries(vnGasoline, vnGasolineExtra), color: MAROON },
        { data: toSeries(vnDiesel, vnDieselExtra), color: LIGHTGREY }
    ],
    legend: [
        { label: 'Xăng', color: MAROON, x1: 1148, x2: 1201, y: 625, tx: 1220 },
        { label: 'Dầu Diesel', color: LIGHTGREY, x1: 1148, x2: 1191, y: 670, tx: 1211 }
    ]
});

drawPanel({
    title: 'Dầu hỏa và dầu nhiên liệu (FO) Singapore', titleX: 696, titleY: 1052,
    x0: 95, x1: 1267, left: 94, right: 1279, base: 1373, top: 1050,
    yDomain: [0, 300], yTicks: ticksUsdBbl0, fmt: d => d, yFont: 18, xFont: 18,
    yRight: { domain: [0, 1000], ticks: ticksUsdTon },
    axisTitles: [{ text: 'USD/bbl', x: 23, y: 1211 }, { text: 'USD/ton', x: 1365, y: 1212 }],
    lineWidth: 3.4, legendDy: 6,
    series: [
        { data: toSeries(sgKerosene, sgKeroseneExtra), color: MAROON },
        { data: toSeries(sgFuelOil, sgFuelOilExtra), color: TAN, right: true }
    ],
    legend: [
        { label: 'Dầu hỏa (trái)', color: MAROON, x1: 940, x2: 994, y: 1109, tx: 1017 },
        { label: 'Dầu FO (phải)', color: TAN, x1: 940, x2: 994, y: 1148, tx: 1017 }
    ]
});

drawPanel({
    title: 'Dầu hỏa và dầu FO Việt Nam*', titleX: 708, titleY: 1522,
    x0: 174, x1: 1369, left: 171, right: 1380, base: 1884, top: 1540,
    yDomain: [0, 45000], yTicks: ticksVnd45, fmt: viNum, yFont: 18, xFont: 18,
    axisTitles: [{ text: 'VND/liter, kg', x: 73, y: 1712 }],
    lineWidth: 3.4, legendDy: 6,
    series: [
        { data: toSeries(vnFuelOil, vnFuelOilExtra), color: TAN },
        { data: toSeries(vnKerosene, vnKeroseneExtra), color: MAROON }
    ],
    legend: [
        { label: 'Dầu hỏa (trái)', color: MAROON, x1: 1139, x2: 1166, y: 1603, tx: 1187 },
        { label: 'Dầu FO', color: TAN, x1: 1139, x2: 1182, y: 1657, tx: 1202 }
    ]
});
</script>
</body>
</html>
